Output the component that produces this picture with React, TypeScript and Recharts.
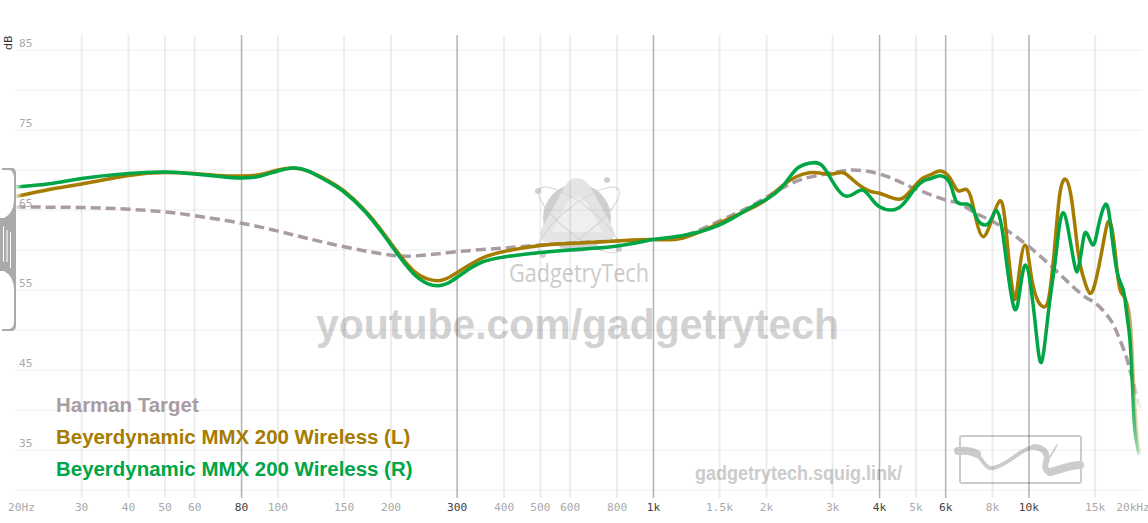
import React from 'react';
import { LineChart, Line, XAxis, YAxis, ReferenceLine } from 'recharts';

const harmanName = 'Harman Target';
const leftName = 'Beyerdynamic MMX 200 Wireless (L)';
const rightName = 'Beyerdynamic MMX 200 Wireless (R)';

const harmanFreq = [20, 30, 40, 50, 60, 80, 100, 120, 150, 190, 230, 300, 400, 500, 600, 800, 1000, 1200, 1500, 1800, 2000, 2200, 2500, 3000, 3400, 4000, 4600, 5000, 6000, 6500, 7093, 8000, 9400, 11374, 13671, 14833, 15771, 16604, 17258, 18016, 18576, 19546, 20000];
const harmanDb = [65.38, 65.31, 65.1, 64.75, 64.3, 63.34, 62.36, 61.44, 60.41, 59.5, 59.25, 59.79, 60.25, 60.63, 60.88, 61.13, 61.31, 61.75, 63.63, 65.38, 66.63, 67.71, 68.88, 69.66, 70, 69.5, 68.38, 67.63, 66.25, 65.88, 64.79, 63.56, 61.41, 58.13, 54.63, 53.54, 52.41, 51.04, 49.38, 47.13, 45, 41.25, 39.75];

const leftFreq = [20, 25, 30, 40, 50, 60, 70, 80, 90, 100, 110, 120, 135, 150, 170, 190, 210, 230, 250, 270, 290, 320, 350, 400, 500, 600, 800, 1000, 1200, 1500, 1800, 2000, 2200, 2400, 2600, 2800, 3000, 3200, 3400, 3600, 3800, 4000, 4300, 4600, 4900, 5200, 5500, 5800, 6160, 6470, 6795, 7037, 7256, 7556, 7956, 8371, 8631, 8862, 9138, 9365, 9758, 10167, 10587, 10917, 11305, 11728, 12094, 12524, 12993, 13530, 13951, 14536, 15145, 15771, 16263, 16769, 17290, 17654, 18016, 18576, 18922, 19273, 19691];
const leftDb = [66.69, 67.63, 68.25, 69.31, 69.69, 69.56, 69.31, 69.25, 69.44, 70, 70.25, 69.88, 68.75, 67.38, 65, 62.25, 59.5, 57.38, 56.38, 56.19, 56.75, 58, 59, 59.81, 60.56, 60.81, 61.13, 61.31, 61.5, 63.38, 65.09, 66.34, 68, 69.16, 69.66, 69.59, 69.5, 69.66, 68.75, 67.84, 67.29, 67.09, 66.54, 66.46, 67.71, 68.96, 69.46, 69.88, 69, 67.41, 67.59, 66.25, 63.54, 61.66, 63.75, 66.16, 63.75, 58.38, 53.96, 56.25, 60.63, 56.46, 53.54, 52.91, 54.16, 60.84, 67.13, 68.84, 66.25, 59.59, 56.66, 54.59, 56.66, 60.84, 63.54, 61.66, 56.25, 54.59, 53.96, 51.25, 45, 38.75, 34.75];

const rightFreq = [20, 25, 30, 40, 50, 60, 70, 80, 90, 100, 110, 120, 135, 150, 170, 190, 210, 230, 250, 270, 290, 320, 350, 400, 500, 600, 800, 1000, 1200, 1500, 1800, 2000, 2200, 2400, 2600, 2800, 3000, 3200, 3400, 3600, 3800, 4000, 4300, 4600, 4900, 5200, 5500, 5800, 6160, 6419, 6825, 7106, 7328, 7682, 7956, 8203, 8459, 8722, 9138, 9463, 9800, 10167, 10471, 10810, 11256, 11728, 12042, 12341, 12725, 13259, 13530, 13815, 14184, 14779, 15296, 15936, 16433, 17122, 17830, 18205, 18576, 18887, 19155, 19667];
const rightDb = [67.88, 68.31, 68.94, 69.56, 69.75, 69.5, 69.19, 69, 69.25, 69.88, 70.25, 69.88, 68.63, 67.25, 64.88, 62.06, 59.25, 57, 55.81, 55.56, 56.13, 57.5, 58.5, 59.13, 59.69, 60, 60.5, 61.31, 61.81, 63.13, 65.21, 66.34, 67.88, 70.09, 70.84, 70.63, 68.54, 66.88, 66.96, 67.5, 66.46, 65.41, 65, 65.63, 67.29, 68.54, 68.96, 69.29, 68.34, 66.04, 65.75, 65, 63.66, 63.13, 63.96, 64.91, 62.91, 58.34, 52.71, 55, 58.13, 54.59, 49.38, 46, 52.09, 58.34, 62.91, 64.66, 62.5, 57.91, 57.71, 60, 62.21, 60.63, 62.91, 65.63, 63.75, 57.5, 55, 52.09, 48.75, 42.5, 37.5, 34.38];

const xTicks = [20, 30, 40, 50, 60, 80, 100, 150, 200, 300, 400, 500, 600, 800, 1000, 1500, 2000, 3000, 4000, 5000, 6000, 8000, 10000, 15000, 20000];
const xLabels = ['20Hz', '30', '40', '50', '60', '80', '100', '150', '200', '300', '400', '500', '600', '800', '1k', '1.5k', '2k', '3k', '4k', '5k', '6k', '8k', '10k', '15k', '20kHz'];
const strongTicks = [80, 300, 1000, 4000, 6000, 10000];
const yTicks = [85, 75, 65, 55, 45, 35];
const yGrid = [85, 80, 75, 70, 65, 60, 55, 50, 45, 40, 35, 30];

const toPoints = (freq: number[], db: number[]) => freq.map((f, i) => ({ freq: f, db: db[i] }));

const harmanData = toPoints(harmanFreq, harmanDb);
const leftData = toPoints(leftFreq, leftDb);
const rightData = toPoints(rightFreq, rightDb);

const labelFont = '"DejaVu Sans Mono", monospace';
const boldFont = '"Liberation Sans", Arial, sans-serif';

const XTick = (props: any) => {
    const value = props.payload.value;
    const strong = strongTicks.includes(value);
    const shift = value === 20 ? 6 : value === 20000 ? -9 : 0;
    return (
        <text x={props.x + shift} y={511} textAnchor="middle" fontFamily={labelFont} fontSize={11.2} fill={strong ? '#444' : '#aaa'}>
            {xLabels[xTicks.indexOf(value)]}
        </text>
    );
};

const YTick = (props: any) => (
    <text x={19} y={props.y - 3} textAnchor="start" fontFamily={labelFont} fontSize={11.2} fill="#aaa">
        {props.payload.value}
    </text>
);

const FadeGradient = ({ id, color, end }: { id: string; color: string; end: number }) => (
    <linearGradient id={id} gradientUnits="userSpaceOnUse" x1={15.5} y1={0} x2={1142} y2={0}>
        <stop offset="0" stopColor={color} stopOpacity={0.1} />
        <stop offset="0.006" stopColor={color} stopOpacity={1} />
        <stop offset={end} stopColor={color} stopOpacity={1} />
        <stop offset="0.998" stopColor={color} stopOpacity={0.1} />
    </linearGradient>
);

// watermarks and the scale handle sit behind the transparent chart
const Backdrop = () => (
    <svg width={1148} height={523} style={{ position: 'absolute', left: 0, top: 0 }}>
        <path
            fill="#aaa"
            fillRule="evenodd"
            d="M2 168 L13 168 Q16 169 16 174 L16 325 Q16 330 13 331 L2 331 L2 329 L9 329 Q14 328 14 322 L14 290 Q14 276 4 271 L0 271 L0 218 L4 218 Q14 213 14 200 L14 178 Q14 172 10 170 L2 170 Z"
        />
        <path stroke="#fff" strokeWidth={1} fill="none" d="M3.5 226 L3.5 262 M7 230 L7 262 M10.5 232 L10.5 268" />

        <circle cx={577} cy={218} r={34} fill="#cfcfcf" />
        <path d="M577 178 Q586 178 592 190 L612 226 Q618 240 606 243 L548 243 Q536 240 543 226 L563 190 Q568 178 577 178 Z" fill="#e4e4e4" />
        <path d="M577 197 Q584 197 590 208 L602 232 L552 232 L564 208 Q570 197 577 197 Z" fill="#efefef" />
        <ellipse cx={579} cy={220} rx={50} ry={15} transform="rotate(-38 579 220)" fill="none" stroke="#d4d4d4" strokeWidth={1} />
        <ellipse cx={579} cy={220} rx={50} ry={15} transform="rotate(38 579 220)" fill="none" stroke="#d4d4d4" strokeWidth={1} />
        <circle cx={538} cy={191} r={3} fill="#d0d0d0" />
        <circle cx={607} cy={180} r={3} fill="#d0d0d0" />
        <circle cx={619} cy={249} r={3} fill="#d0d0d0" />
        <circle cx={543} cy={255} r={3} fill="#d0d0d0" />
        <text x={509} y={282} fontFamily='"Open Sans", sans-serif' fontSize={26} fill="#ccc" textLength={140} lengthAdjust="spacingAndGlyphs">GadgetryTech</text>

        <text x={316} y={339} fontFamily={boldFont} fontWeight="bold" fontSize={42} fill="#d2d2d2" textLength={523} lengthAdjust="spacingAndGlyphs">youtube.com/gadgetrytech</text>
        <text x={695} y={480} fontFamily={boldFont} fontWeight="bold" fontSize={20} fill="#ccc" textLength={207} lengthAdjust="spacingAndGlyphs">gadgetrytech.squig.link/</text>

        <rect x={960} y={436} width={121} height={47} rx={2} fill="none" stroke="#ccc" strokeWidth={2} />
        <g fill="none" stroke="#ccc" strokeLinecap="round" strokeLinejoin="round">
            <path strokeWidth={4} d="M958 451 C968 450 976 452 981 459 C985 465 988 469 993 468 C1003 466 1012 458 1020 453 C1028 448 1033 446 1038 447 C1046 448 1049 455 1046 462 C1044 469 1046 472 1052 472 C1060 470 1070 465 1080 465" />
            <path strokeWidth={8} d="M958 451 C966 450 972 451 977 454" />
            <path strokeWidth={6} d="M1034 447 C1044 447 1049 455 1046 462 C1044 469 1046 472 1052 472" />
            <path strokeWidth={8} d="M1050 472 C1060 470 1070 465 1080 465" />
            <path strokeWidth={1.5} d="M1057 445 L1050 457" />
        </g>
    </svg>
);

const legendRows = [
    { name: harmanName, color: '#a99da3', top: 393 },
    { name: leftName, color: '#a67c00', top: 425 },
    { name: rightName, color: '#00a645', top: 457 }
];

const App = () => (
    <div style={{ position: 'absolute', left: 0, top: 0, width: 1148, height: 523, overflow: 'hidden', background: '#fff' }}>
        <Backdrop />
        <div style={{ position: 'absolute', left: 0, top: 0 }}>
            <LineChart width={1148} height={523} margin={{ top: 35, right: 6, bottom: 0, left: 14.5 }}>
                <defs>
                    <FadeGradient id="fadeHarman" color="#a99da3" end={0.99} />
                    <FadeGradient id="fadeLeft" color="#a67c00" end={0.985} />
                    <FadeGradient id="fadeRight" color="#00a645" end={0.99} />
                </defs>
                <XAxis
                    type="number"
                    dataKey="freq"
                    scale="log"
                    domain={[20, 20000]}
                    ticks={xTicks}
                    interval={0}
                    height={25}
                    axisLine={false}
                    tickLine={false}
                    tick={<XTick />}
                />
                <YAxis
                    type="number"
                    dataKey="db"
                    domain={[29, 86.875]}
                    ticks={yTicks}
                    interval={0}
                    width={1}
                    axisLine={false}
                    tickLine={false}
                    tick={<YTick />}
                />
                {yGrid.map((v) => (
                    <ReferenceLine key={v} y={v} stroke="#000" strokeOpacity={0.035} strokeWidth={2} />
                ))}
                {xTicks.slice(1, -1).map((v) => (
                    <ReferenceLine
                        key={v}
                        x={v}
                        stroke="#000"
                        strokeOpacity={strongTicks.includes(v) ? 0.3 : 0.07}
                        strokeWidth={strongTicks.includes(v) ? 1.5 : 2}
                    />
                ))}
                <Line data={harmanData} dataKey="db" name={harmanName} type="natural" stroke="url(#fadeHarman)" strokeWidth={3.5} strokeDasharray="10 5" dot={false} isAnimationActive={false} />
                <Line data={leftData} dataKey="db" name={leftName} type="natural" stroke="url(#fadeLeft)" strokeWidth={3.5} dot={false} isAnimationActive={false} />
                <Line data={rightData} dataKey="db" name={rightName} type="natural" stroke="url(#fadeRight)" strokeWidth={3.5} dot={false} isAnimationActive={false} />
            </LineChart>
        </div>
        <div style={{ position: 'absolute', left: -3, top: 44, transform: 'rotate(-90deg)', transformOrigin: '6px 0', fontFamily: '"DejaVu Sans", sans-serif', fontSize: 11, color: '#333', lineHeight: '12px' }}>
            dB
        </div>
        {legendRows.map((row) => (
            <div key={row.name} style={{ position: 'absolute', left: 56, top: row.top, fontFamily: boldFont, fontWeight: 'bold', fontSize: 20.46, lineHeight: '24px', color: row.color, whiteSpace: 'nowrap' }}>
                {row.name}
            </div>
        ))}
    </div>
);

export default App;
